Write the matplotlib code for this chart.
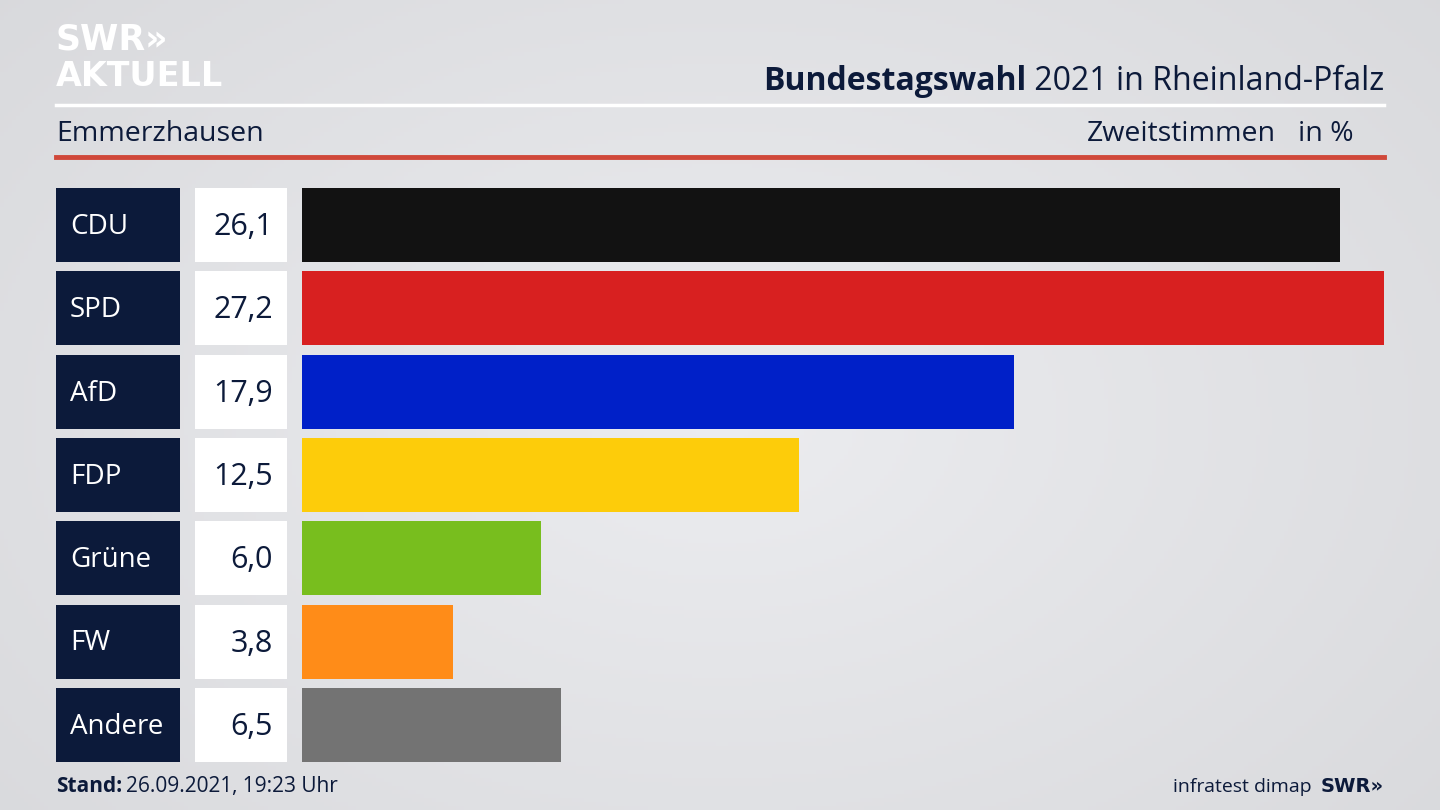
import matplotlib
matplotlib.use("Agg")
import matplotlib.pyplot as plt
import numpy as np

parties = ["CDU", "SPD", "AfD", "FDP", "Grüne", "FW", "Andere"]
values = [26.1, 27.2, 17.9, 12.5, 6.0, 3.8, 6.5]
colors = ["#121212", "#d82020", "#0020c8", "#fdcc0a", "#78be1e", "#ff8c18", "#737373"]
value_labels = ["26,1", "27,2", "17,9", "12,5", "6,0", "3,8", "6,5"]

W, H = 1440, 810
fig = plt.figure(figsize=(14.4, 8.1), dpi=100)
bg = fig.add_axes([0, 0, 1, 1])
bg.set_xlim(0, W); bg.set_ylim(H, 0); bg.axis("off")
yy, xx = np.mgrid[0:H:4, 0:W:4]
d = np.sqrt(((xx - 720) / 900) ** 2 + ((yy - 420) / 600) ** 2)
img = 0.925 - 0.07 * d
bg.imshow(np.dstack([img, img + 0.003, img + 0.015]).clip(0, 1), extent=[0, W, H, 0], aspect="auto", zorder=0)
navy = "#0c1a3a"
font = "Open Sans"
ident = matplotlib.transforms.IdentityTransform()

# header
bg.text(56, 50, "SWR»", color="white", fontsize=25, fontweight="bold", family="DejaVu Sans", va="baseline")
bg.text(56, 86, "AKTUELL", color="white", fontsize=24, fontweight="bold", family="DejaVu Sans", va="baseline")
t2 = bg.text(1384, 90, " 2021 in Rheinland-Pfalz", color=navy, fontsize=23, family=font, ha="right", va="baseline")
fig.canvas.draw()
bb = t2.get_window_extent()
bg.text(bb.x0, 90, "Bundestagswahl", color=navy, fontsize=23, family=font, fontweight="bold", ha="right", va="baseline",
        transform=matplotlib.transforms.blended_transform_factory(ident, bg.transData))
bg.plot([56, 1384], [105, 105], color="white", lw=2.5)
bg.text(56, 141, "Emmerzhausen", color=navy, fontsize=20.5, family=font, va="baseline")
bg.text(1276, 141, "Zweitstimmen", color=navy, fontsize=20.5, family=font, ha="right", va="baseline")
bg.text(1354, 141, "in %", color=navy, fontsize=20.5, family=font, ha="right", va="baseline")
bg.plot([56, 1384], [157, 157], color="#d0483a", lw=3.5)

# boxes and labels
pitch = 83.3
for i, (p, v) in enumerate(zip(parties, value_labels)):
    top = 188 + i * pitch
    bg.add_patch(plt.Rectangle((56, top), 124, 74, color=navy, lw=0))
    bg.add_patch(plt.Rectangle((195, top), 92, 74, color="white", lw=0))
    bg.text(70, top + 39, p, color="white", fontsize=20, family=font, va="center")
    bg.text(273, top + 39, v, color=navy, fontsize=22, family=font, va="center", ha="right")

# bars
n = len(parties)
ax = fig.add_axes([302 / W, 1 - (188 + (n - 1) * pitch + 74) / H, (1384 - 302) / W, ((n - 1) * pitch + 74) / H])
ax.patch.set_alpha(0)
ax.barh(range(n), values, color=colors, height=74 / pitch)
ax.set_xlim(0, max(values))
half = 37 / pitch
ax.set_ylim(n - 1 + half, -half)
ax.axis("off")

# footer
t3 = bg.text(56, 792, "Stand:", color=navy, fontsize=15, family=font, fontweight="bold", va="baseline")
fig.canvas.draw()
bb3 = t3.get_window_extent()
bg.text(bb3.x1 + 4, 792, "26.09.2021, 19:23 Uhr", color=navy, fontsize=15, family=font, va="baseline",
        transform=matplotlib.transforms.blended_transform_factory(ident, bg.transData))
bg.text(1312, 792, "infratest dimap", color=navy, fontsize=14, family=font, ha="right", va="baseline")
bg.text(1384, 792, "SWR»", color=navy, fontsize=14, family="DejaVu Sans", fontweight="bold", ha="right", va="baseline")

fig.savefig("out.png", dpi=100)
